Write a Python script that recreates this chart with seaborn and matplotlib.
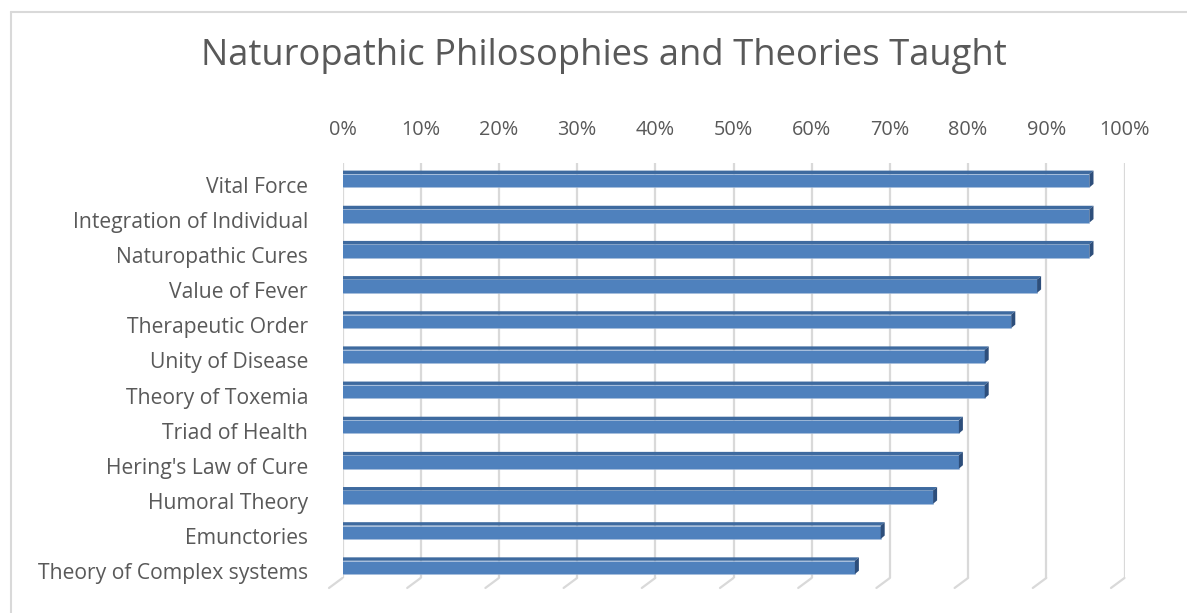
import matplotlib
matplotlib.use("Agg")
import matplotlib.pyplot as plt
import matplotlib.transforms as mtransforms
from matplotlib.lines import Line2D
from matplotlib.patches import Polygon
import pandas as pd
import seaborn as sns

# survey data (share of schools teaching each theory)
categories = [
    "Vital Force",
    "Integration of Individual",
    "Naturopathic Cures",
    "Value of Fever",
    "Therapeutic Order",
    "Unity of Disease",
    "Theory of Toxemia",
    "Triad of Health",
    "Hering's Law of Cure",
    "Humoral Theory",
    "Emunctories",
    "Theory of Complex systems",
]
shares = [0.967, 0.967, 0.967, 0.90, 0.867, 0.833, 0.833, 0.80, 0.80, 0.767, 0.70, 0.667]
tick_values = [0.0, 0.1, 0.2, 0.3, 0.4, 0.5, 0.6, 0.7, 0.8, 0.9, 1.0]
tick_labels = ["0%", "10%", "20%", "30%", "40%", "50%", "60%", "70%", "80%", "90%", "100%"]
title = "Naturopathic Philosophies and Theories Taught"

FRONT = "#4F81BD"
TOP = "#3E6A9F"
SIDE = "#2D4E7B"
GRID = "#D9D9D9"
TEXT = "#595959"


def main():
    sns.set_theme(style="white")
    plt.rcParams["font.family"] = ["Open Sans", "DejaVu Sans"]

    W, H = 1187, 613
    fig = plt.figure(figsize=(W / 100, H / 100), dpi=100)
    # axes in pixel terms: back wall 0% at x=342.5, 100% at x=1124.5
    ax = fig.add_axes([342.5 / W, (H - 585) / H, 782 / W, (585 - 163.1) / H])

    df = pd.DataFrame({"item": categories, "share": shares})
    bar_h = 0.38
    sns.barplot(data=df, x="share", y="item", orient="h", color=FRONT,
                saturation=1, width=bar_h, ax=ax, zorder=2)

    ax.set_xlim(0, 1)
    ax.set_ylim(11.5, -0.5)

    # front faces sit in front of the gridline wall -> shift left a bit
    front = ax.transData + mtransforms.ScaledTranslation(-9.2 / 100, 0, fig.dpi_scale_trans)
    ddx = 4.0 / 782
    ddy = 3.4 / 35.17
    bars = list(ax.patches)
    for p in bars:
        p.set_transform(front)
        p.set_edgecolor("#A7BEDC")
        p.set_linewidth(0.4)
        x0, y0 = p.get_x(), p.get_y()
        w, h = p.get_width(), p.get_height()
        x1 = x0 + w
        top = Polygon([(x0, y0), (x1, y0), (x1 + ddx, y0 - ddy), (x0 + ddx, y0 - ddy)],
                      closed=True, facecolor=TOP, edgecolor="none", transform=front, zorder=2)
        side = Polygon([(x1, y0), (x1, y0 + h), (x1 + ddx, y0 + h - ddy), (x1 + ddx, y0 - ddy)],
                       closed=True, facecolor=SIDE, edgecolor="none", transform=front, zorder=2)
        ax.add_patch(top)
        ax.add_patch(side)

    # back wall gridlines with the little floor slant at the bottom
    g_top, g_bot = -0.7, 11.3
    ax.vlines(tick_values, g_top, g_bot, color=GRID, lw=1.6, zorder=0)
    for t in tick_values:
        ax.add_line(Line2D([t, t - 13.5 / 782], [g_bot, g_bot + 10 / 35.17],
                           color=GRID, lw=1.6, zorder=0, clip_on=False))

    for s in ax.spines.values():
        s.set_visible(False)
    ax.grid(False)
    ax.set_xlabel("")
    ax.set_ylabel("")

    ax.xaxis.tick_top()
    ax.set_xticks(tick_values)
    ax.set_xticklabels(tick_labels)
    ax.tick_params(axis="x", length=0, pad=16.5, labelsize=14.3, labelcolor=TEXT)
    ax.tick_params(axis="y", length=0, pad=24.8, labelsize=15.2, labelcolor=TEXT)
    shift = mtransforms.ScaledTranslation(0, -4 / 100, fig.dpi_scale_trans)
    for lab in ax.get_yticklabels():
        lab.set_transform(lab.get_transform() + shift)

    fig.text(603.5 / W, 1 - 65 / H, title, ha="center", va="baseline",
             fontsize=26.2, color=TEXT)

    # chart area border (left and top edges visible)
    fig.add_artist(Line2D([11 / W, 11 / W], [0, 1 - 12 / H], color=GRID, lw=1.5))
    fig.add_artist(Line2D([11 / W, 1], [1 - 12 / H, 1 - 12 / H], color=GRID, lw=1.5))

    fig.savefig("out.png", dpi=100, facecolor="white")


if __name__ == "__main__":
    main()
